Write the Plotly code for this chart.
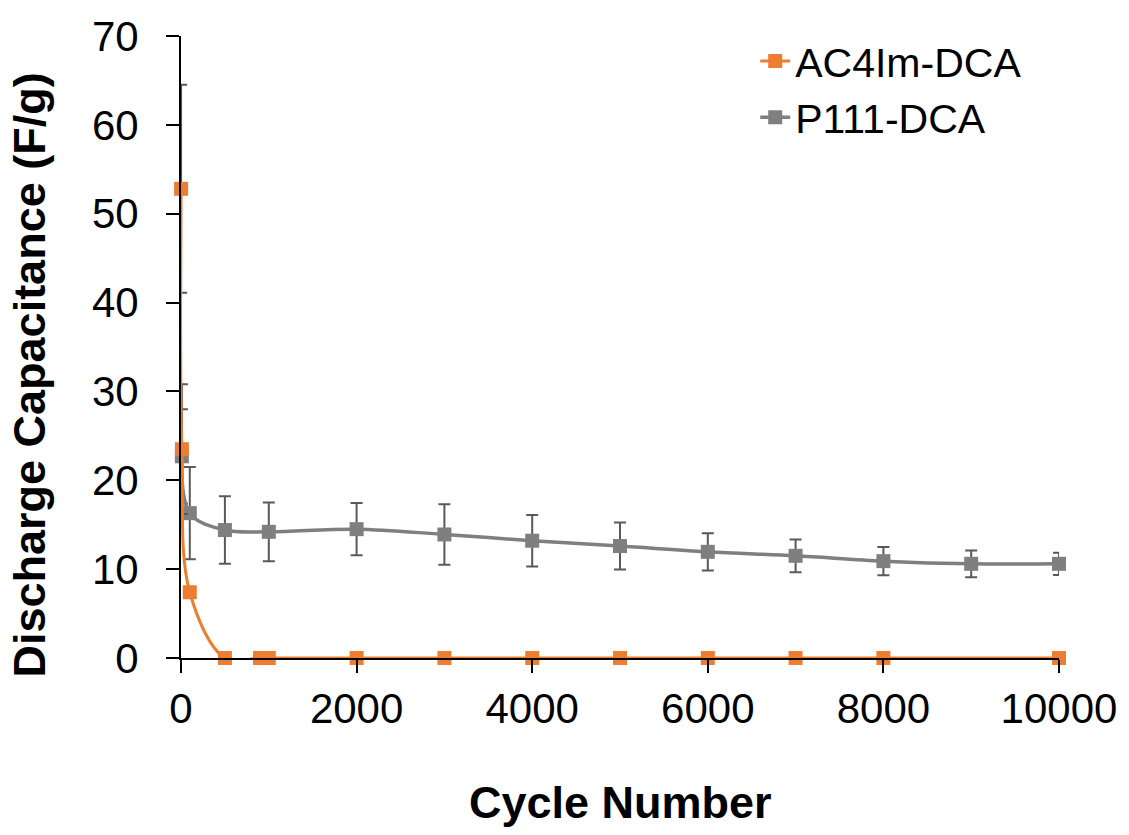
import plotly.graph_objects as go

# ---- data ----
ac4_x = [1, 10, 100, 500, 900, 1000, 2000, 3000, 4000, 5000, 6000, 7000, 8000, 10000]
ac4_y = [52.8, 23.5, 7.4, 0, 0, 0, 0, 0, 0, 0, 0, 0, 0, 0]
ac4_err = [11.7, 7.3, 0, 0, 0, 0, 0, 0, 0, 0, 0, 0, 0, 0]

p111_x = [10, 100, 500, 1000, 2000, 3000, 4000, 5000, 6000, 7000, 8000, 9000, 10000]
p111_y = [22.7, 16.3, 14.4, 14.2, 14.5, 13.9, 13.2, 12.6, 11.95, 11.5, 10.9, 10.6, 10.6]
p111_err = [5.3, 5.2, 3.8, 3.3, 2.95, 3.4, 2.9, 2.65, 2.1, 1.85, 1.6, 1.5, 1.25]

x_ticks = [0, 2000, 4000, 6000, 8000, 10000]
x_tick_labels = ["0", "2000", "4000", "6000", "8000", "10000"]
y_ticks = [0, 10, 20, 30, 40, 50, 60, 70]

ORANGE = "#ED7D31"
GRAY = "#7F7F7F"
ERR = "#595959"
FONT = "Liberation Sans, Arial, sans-serif"

fig = go.Figure()
fig.add_trace(go.Scatter(
    x=p111_x, y=p111_y, name="P111-DCA", mode="lines+markers",
    line=dict(color=GRAY, width=3.5, shape="spline", smoothing=1),
    marker=dict(symbol="square", size=14, color=GRAY),
    error_y=dict(type="data", array=p111_err, visible=True, color=ERR, thickness=2, width=6),
    cliponaxis=False,
))
fig.add_trace(go.Scatter(
    x=ac4_x, y=ac4_y, name="AC4Im-DCA", mode="lines+markers",
    line=dict(color=ORANGE, width=3, shape="spline", smoothing=1),
    marker=dict(symbol="square", size=14, color=ORANGE),
    error_y=dict(type="data", array=ac4_err, visible=True, color=ERR, thickness=2, width=6),
    cliponaxis=False,
))

fig.update_layout(
    width=1129, height=835,
    margin=dict(l=181, r=67, t=36, b=177),
    paper_bgcolor="white", plot_bgcolor="white",
    font=dict(family=FONT, size=42, color="black"),
    showlegend=True,
    legend=dict(x=0.654, y=1.013, xanchor="left", yanchor="top",
                traceorder="reversed", font=dict(size=41), bgcolor="rgba(0,0,0,0)"),
    xaxis=dict(range=[0, 10000], tickvals=x_ticks, ticktext=x_tick_labels,
               showgrid=False, zeroline=False,
               showline=True, linecolor="black", linewidth=2,
               ticks="outside", ticklen=13, tickwidth=2, tickcolor="black",
               tickfont=dict(size=42)),
    yaxis=dict(range=[0, 70], tickvals=y_ticks, showgrid=False, zeroline=False,
               showline=True, linecolor="black", linewidth=2,
               ticks="outside", ticklen=13, tickwidth=2, tickcolor="black",
               tickfont=dict(size=42), ticklabelstandoff=19),
    annotations=[
        dict(text="<b>Cycle Number</b>", xref="paper", yref="paper",
             x=0.5, y=-0.232, xanchor="center", yanchor="middle",
             showarrow=False, font=dict(size=45)),
        dict(text="<b>Discharge Capacitance (F/g)</b>", xref="paper", yref="paper",
             x=-0.1725, y=0.455, xanchor="center", yanchor="middle", textangle=-90,
             showarrow=False, font=dict(size=45)),
    ],
)

fig.write_html("out.html")
